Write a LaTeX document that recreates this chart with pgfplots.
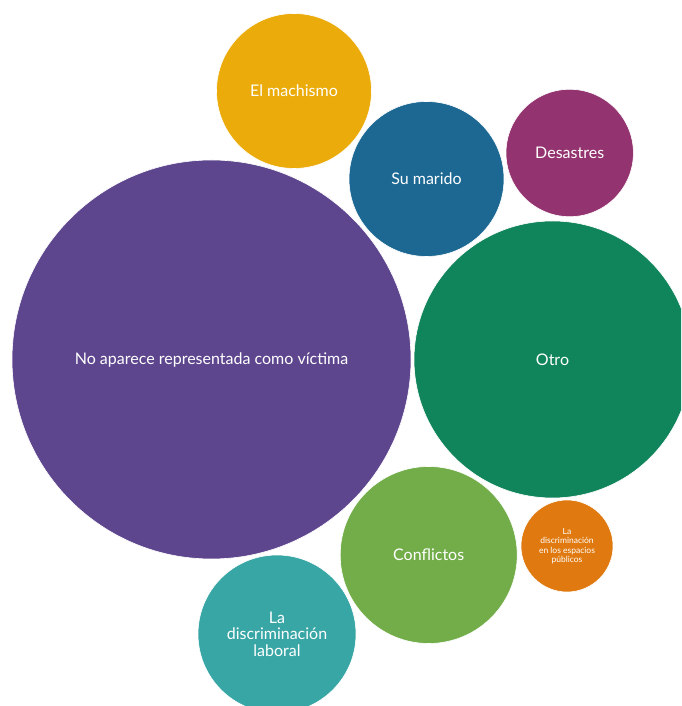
\documentclass[border=0pt]{standalone}
\usepackage{fontspec}
\setmainfont{Lato}
\usepackage{pgfplots}
\pgfplotsset{compat=1.18}
\definecolor{cpurple}{HTML}{5E468E}
\definecolor{cgreen}{HTML}{10845A}
\definecolor{cyellow}{HTML}{EBAC0B}
\definecolor{cblue}{HTML}{1C6893}
\definecolor{cmagenta}{HTML}{93336F}
\definecolor{clgreen}{HTML}{72AD4A}
\definecolor{corange}{HTML}{E07A10}
\definecolor{cteal}{HTML}{38A6A5}
\pgfplotsset{
  bubble/.style n args={3}{only marks, mark=*, mark size=#1pt,
    mark options={fill=#2, draw=white, line width=0.6pt},
    nodes near coords={#3},
    every node near coord/.append style={anchor=center, text=white,
      font=\fontsize{16}{16.5}\selectfont, align=center, inner sep=0pt}},
}
\begin{document}
\begin{tikzpicture}
\useasboundingbox (0,0) rectangle (681pt,706pt);
\begin{axis}[at={(0,0)}, anchor=south west, width=681pt, height=706pt,
  scale only axis, xmin=0, xmax=681, ymin=0, ymax=706, hide axis,
  clip marker paths=true]
\addplot[bubble={199.5}{cpurple}{No aparece representada como víctima}] coordinates {(211.5,346.5)};
\addplot[bubble={138.5}{cgreen}{Otro}] coordinates {(552.5,346.5)};
\addplot[bubble={77.5}{cyellow}{El machismo}] coordinates {(294,615)};
\addplot[bubble={77.5}{cblue}{Su marido}] coordinates {(426.5,527)};
\addplot[bubble={63.7}{cmagenta}{Desastres}] coordinates {(569.7,553)};
\addplot[bubble={88.5}{clgreen}{Conflictos}] coordinates {(428.7,151)};
\addplot[bubble={46}{corange}{La\\discriminación\\en los espacios\\públicos},
  every node near coord/.append style={font=\fontsize{8.5}{9.5}\selectfont}] coordinates {(567,160)};
\addplot[bubble={79}{cteal}{La\\discriminación\\laboral}] coordinates {(277,72)};
\end{axis}
\end{tikzpicture}
\end{document}
